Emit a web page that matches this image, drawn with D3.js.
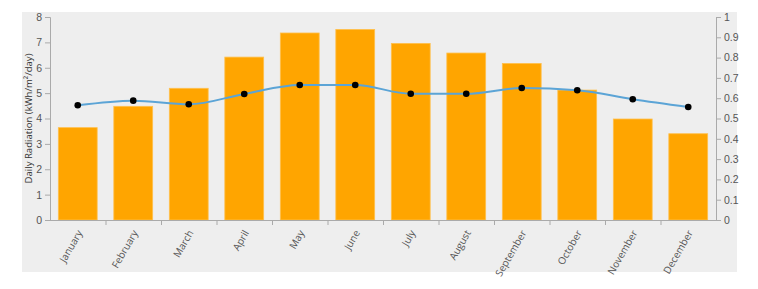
<!DOCTYPE html>
<html><head><meta charset="utf-8">
<script src="https://cdn.jsdelivr.net/npm/d3@7"></script>
<style>
body{margin:0;background:#fff;}
svg{display:block;font-family:"Open Sans","Segoe UI",sans-serif;}
.axis text{fill:#555;font-size:10.5px;}
.axis path,.axis line{stroke:#aaa;}
</style></head><body>
<svg id="c" width="758" height="289"></svg>
<script>
const months = ["January","February","March","April","May","June","July","August","September","October","November","December"];
const radiation = [3.64,4.48,5.19,6.42,7.37,7.51,6.96,6.58,6.17,5.12,3.98,3.40];
const ratio = [0.565,0.588,0.570,0.621,0.665,0.665,0.622,0.622,0.650,0.639,0.595,0.557];
const leftTicks = [0,1,2,3,4,5,6,7,8];
const rightTicks = [0,0.1,0.2,0.3,0.4,0.5,0.6,0.7,0.8,0.9,1];
const yLabel = "Daily Radiation (kWh/m²/day)";

const svg = d3.select("#c");
const L = 50, R = 716, T = 17, B = 220;
svg.append("rect").attr("x",22).attr("y",12).attr("width",715).attr("height",260).attr("fill","#eeeeee");

const x = d3.scaleBand().domain(months).range([L,R]).padding(0);
const y = d3.scaleLinear().domain([0,8]).range([B,T]);
const y2 = d3.scaleLinear().domain([0,1]).range([B,T]);
const bw = x.bandwidth();

svg.append("g").selectAll("rect").data(months).join("rect")
  .attr("x",(d)=>x(d)+bw*0.15).attr("width",bw*0.7)
  .attr("y",(d,i)=>y(radiation[i])).attr("height",(d,i)=>B-y(radiation[i]))
  .attr("fill","#ffa500").attr("stroke","#ffc04d").attr("stroke-width",0.8);

const line = d3.line().x((d,i)=>x(months[i])+bw/2).y(d=>y2(d)).curve(d3.curveMonotoneX);
svg.append("path").datum(ratio).attr("d",line).attr("fill","none").attr("stroke","#5ba4d6").attr("stroke-width",2);
svg.append("g").selectAll("circle").data(ratio).join("circle")
  .attr("cx",(d,i)=>x(months[i])+bw/2).attr("cy",d=>y2(d)).attr("r",3.3).attr("fill","#000");

svg.append("g").attr("class","axis").attr("transform",`translate(${L},0)`)
  .call(d3.axisLeft(y).tickValues(leftTicks).tickSize(5).tickFormat(d3.format("d")));
svg.append("g").attr("class","axis").attr("transform",`translate(${R},0)`)
  .call(d3.axisRight(y2).tickValues(rightTicks).tickSize(5).tickFormat(d=>d===0||d===1?String(d):d3.format(".1f")(d)));

// bottom axis
const gb = svg.append("g").attr("class","axis");
gb.append("line").attr("x1",L).attr("x2",R).attr("y1",B+0.5).attr("y2",B+0.5).attr("stroke","#aaa");
gb.selectAll("line.t").data(months.slice(1)).join("line").attr("class","t")
  .attr("x1",d=>x(d)+0.5).attr("x2",d=>x(d)+0.5).attr("y1",B).attr("y2",B+5).attr("stroke","#aaa");
gb.selectAll("text").data(months).join("text")
  .attr("transform",d=>`translate(${x(d)+bw/2+2},${B+11}) rotate(-60)`)
  .attr("text-anchor","end").attr("dy","0.35em").style("font-size","10px").text(d=>d);

svg.append("text").attr("transform",`translate(32,${(T+B)/2}) rotate(-90)`)
  .attr("text-anchor","middle").attr("fill","#333").style("font-size","9.6px").text(yLabel);
</script></body></html>
